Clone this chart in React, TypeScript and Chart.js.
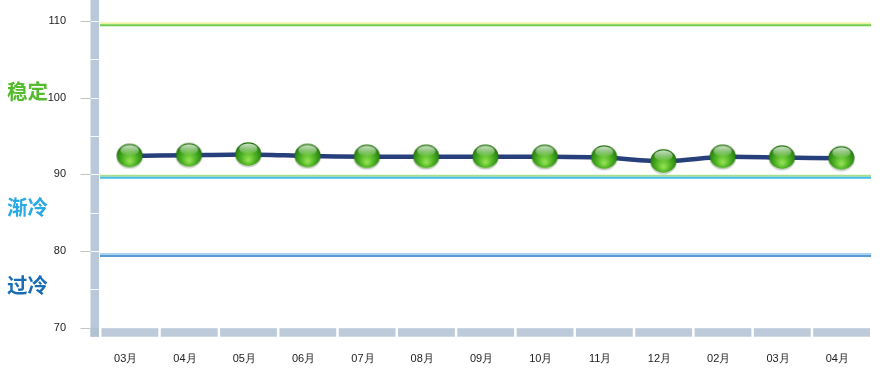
import React, { useEffect, useRef } from "react";
import { Chart, registerables } from "chart.js";

Chart.register(...registerables);

// Monthly index readings
const months = ["03月", "04月", "05月", "06月", "07月", "08月", "09月", "10月", "11月", "12月", "02月", "03月", "04月"];
const indexValues = [92.4, 92.5, 92.6, 92.4, 92.3, 92.3, 92.3, 92.3, 92.2, 91.7, 92.3, 92.2, 92.1];

// Value axis
const yMin = 70;
const yMax = 112.75;
const yTickValues = [70, 80, 90, 100, 110];
const yMinorStep = 5;

// Zone boundaries and zone captions
const thresholdValues = [109.6, 89.7, 79.5];
const zoneNames = ["稳定", "渐冷", "过冷"];
const zoneCaptionValues = [100.9, 85.7, 75.5];

// Styles
const thresholdColors = [
  ["#eef4a6", "#72cc4c"],
  ["#a8df8e", "#45bde8"],
  ["#aad4f0", "#5a9bd3"],
];
const zoneColors = ["#55bb2e", "#29a9e1", "#1a6db5"];
const wallColor = "#b9c9da";
const floorColor = "#bccad9";

function makeBall(): HTMLCanvasElement {
  const w = 29;
  const h = 27;
  const c = document.createElement("canvas");
  c.width = w;
  c.height = h;
  const g = c.getContext("2d")!;
  const cx = w / 2;
  const cy = h / 2 - 0.5;
  // soft shadow
  g.fillStyle = "rgba(40,60,30,0.22)";
  g.beginPath();
  g.ellipse(cx, cy + 1.4, 13.4, 12.2, 0, 0, Math.PI * 2);
  g.fill();
  // body
  const body = g.createRadialGradient(cx, cy + 6, 1, cx, cy + 2, 14);
  body.addColorStop(0, "#8fe04f");
  body.addColorStop(0.45, "#52b526");
  body.addColorStop(0.85, "#2e8a14");
  body.addColorStop(1, "#21650c");
  g.fillStyle = body;
  g.beginPath();
  g.ellipse(cx, cy, 13, 11.8, 0, 0, Math.PI * 2);
  g.fill();
  // gloss
  const gloss = g.createLinearGradient(0, cy - 11, 0, cy);
  gloss.addColorStop(0, "rgba(255,255,255,0.8)");
  gloss.addColorStop(1, "rgba(255,255,255,0.05)");
  g.fillStyle = gloss;
  g.beginPath();
  g.ellipse(cx, cy - 5.2, 9.2, 5.4, 0, 0, Math.PI * 2);
  g.fill();
  return c;
}

const backdrop = {
  id: "backdrop",
  beforeDatasetsDraw(chart: any) {
    const { ctx, chartArea } = chart;
    const x = chart.scales.x;
    const y = chart.scales.y;
    const base = y.getPixelForValue(yMin);
    const wallR = chartArea.left - 1;
    const wallL = wallR - 8.5;
    ctx.save();

    // side wall
    ctx.fillStyle = wallColor;
    ctx.fillRect(wallL, chartArea.top, wallR - wallL, base + 9 - chartArea.top);
    ctx.fillStyle = "#b2c2d3";
    ctx.fillRect(wallL, base, wallR - wallL, 9);
    ctx.strokeStyle = "rgba(255,255,255,0.9)";
    ctx.lineWidth = 1;
    for (let v = yMin + yMinorStep; v <= 110; v += yMinorStep) {
      const py = Math.round(y.getPixelForValue(v)) + 0.5;
      ctx.beginPath();
      ctx.moveTo(wallL, py);
      ctx.lineTo(wallR, py);
      ctx.stroke();
    }

    // major tick marks
    ctx.strokeStyle = "#c4c4c4";
    for (const v of yTickValues) {
      const py = Math.round(y.getPixelForValue(v)) + 0.5;
      ctx.beginPath();
      ctx.moveTo(wallL - 10, py);
      ctx.lineTo(wallL, py);
      ctx.stroke();
    }

    // floor segments
    const half = (x.getPixelForValue(1) - x.getPixelForValue(0)) / 2;
    ctx.fillStyle = floorColor;
    months.forEach((_, i) => {
      const cx = x.getPixelForValue(i);
      ctx.fillRect(cx - half + 1.5, base + 0.5, 2 * half - 2.5, 8.5);
    });

    // zone boundaries
    thresholdValues.forEach((v, i) => {
      const py = y.getPixelForValue(v);
      ctx.lineWidth = 2;
      ctx.strokeStyle = thresholdColors[i][0];
      ctx.beginPath();
      ctx.moveTo(chartArea.left, py - 1);
      ctx.lineTo(chartArea.right, py - 1);
      ctx.stroke();
      ctx.strokeStyle = thresholdColors[i][1];
      ctx.beginPath();
      ctx.moveTo(chartArea.left, py + 1);
      ctx.lineTo(chartArea.right, py + 1);
      ctx.stroke();
    });

    // zone captions
    ctx.font = 'bold 20.5px "Noto Sans CJK SC", sans-serif';
    ctx.textAlign = "left";
    ctx.textBaseline = "middle";
    zoneNames.forEach((name, i) => {
      ctx.fillStyle = zoneColors[i];
      ctx.fillText(name, 7, y.getPixelForValue(zoneCaptionValues[i]));
    });
    ctx.restore();
  },
};

export default function App() {
  const ref = useRef<HTMLCanvasElement>(null);

  useEffect(() => {
    const ball = makeBall();
    const chart = new Chart(ref.current!, {
      type: "line",
      data: {
        labels: months,
        datasets: [
          {
            data: indexValues,
            borderColor: "#273f7b",
            borderWidth: 4.5,
            tension: 0.25,
            pointStyle: ball as any,
            pointRadius: 13,
            pointHoverRadius: 13,
            clip: false as any,
          },
        ],
      },
      options: {
        responsive: false,
        animation: false,
        events: [],
        layout: { autoPadding: false, padding: { top: 0, right: 17, left: 0, bottom: 0 } },
        plugins: { legend: { display: false }, tooltip: { enabled: false } },
        scales: {
          x: {
            type: "category",
            offset: true,
            grid: { display: false, drawTicks: false },
            border: { display: false },
            ticks: {
              color: "#222",
              font: { family: '"Liberation Sans", Arial, sans-serif', size: 11 },
              padding: 25,
              labelOffset: -4,
              maxRotation: 0,
              autoSkip: false,
            },
            afterFit(scale: any) {
              scale.height = 53.3;
              scale.paddingLeft = 0;
              scale.paddingRight = 0;
            },
          },
          y: {
            min: yMin,
            max: yMax,
            grid: { display: false, drawTicks: false },
            border: { display: false },
            ticks: {
              color: "#222",
              font: { family: '"Liberation Sans", Arial, sans-serif', size: 11 },
              padding: 34,
            },
            afterBuildTicks(scale: any) {
              scale.ticks = yTickValues.map((v) => ({ value: v }));
            },
            afterFit(scale: any) {
              scale.width = 100;
              scale.paddingTop = 0;
              scale.paddingBottom = 0;
            },
          },
        },
      },
      plugins: [backdrop],
    });
    return () => chart.destroy();
  }, []);

  return (
    <div style={{ position: "fixed", left: 0, top: 0, width: 888, height: 381, background: "#fff" }}>
      <canvas ref={ref} width={888} height={381} style={{ display: "block" }} />
    </div>
  );
}
